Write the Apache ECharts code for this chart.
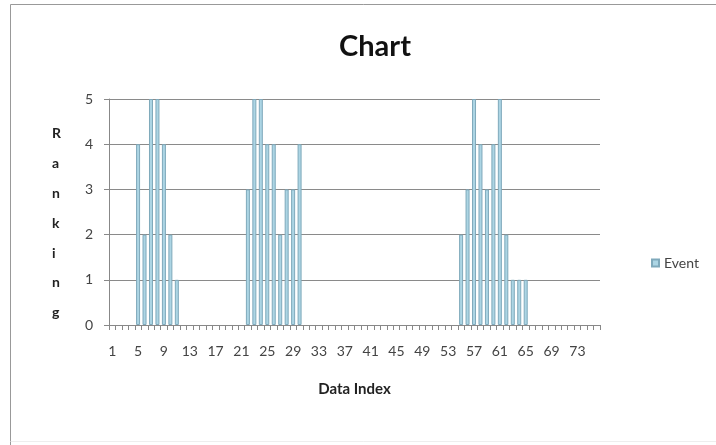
<!DOCTYPE html>
<html>
<head>
<meta charset="utf-8">
<script src="https://cdn.jsdelivr.net/npm/echarts@6/dist/echarts.min.js"></script>
<style>html,body{margin:0;padding:0;background:#fff}#c{width:716px;height:445px}</style>
</head>
<body>
<div id="c"></div>
<script>
var categories = ['1','2','3','4','5','6','7','8','9','10','11','12','13','14','15','16','17','18','19','20',
'21','22','23','24','25','26','27','28','29','30','31','32','33','34','35','36','37','38','39','40',
'41','42','43','44','45','46','47','48','49','50','51','52','53','54','55','56','57','58','59','60',
'61','62','63','64','65','66','67','68','69','70','71','72','73','74','75','76'];
var eventValues = [0,0,0,0,4,2,5,5,4,2,1,0,0,0,0,0,0,0,0,0,
0,3,5,5,4,4,2,3,3,4,0,0,0,0,0,0,0,0,0,0,
0,0,0,0,0,0,0,0,0,0,0,0,0,0,2,3,5,4,3,4,
5,2,1,1,1,0,0,0,0,0,0,0,0,0,0,0];
var yTicks = [0,1,2,3,4,5];
var seriesName = 'Event';
var font = 'Lato, "Open Sans", sans-serif';

var chart = echarts.init(document.getElementById('c'), null, {renderer:'canvas'});
chart.setOption({
  animation:false,
  backgroundColor:'#fff',
  title:{text:'Chart', left:370, top:27, textAlign:'center',
    textStyle:{fontFamily:font, fontSize:29, fontWeight:'bold', color:'#111'}},
  legend:{data:[seriesName], left:646, top:251, icon:'rect', itemWidth:7, itemHeight:7, itemGap:5,
    textStyle:{fontFamily:font, fontSize:14, color:'#444'}},
  grid:{left:109, right:116, top:99, bottom:120, containLabel:false},
  xAxis:{type:'category', data:categories,
    name:'Data Index', nameLocation:'middle', nameGap:57,
    nameTextStyle:{fontFamily:font, fontSize:15, fontWeight:'bold', color:'#222'},
    axisLine:{lineStyle:{color:'#888', width:1}},
    axisTick:{show:true, interval:0, length:5, lineStyle:{color:'#888'}},
    axisLabel:{interval:3, margin:19, fontFamily:font, fontSize:14, color:'#444'}},
  yAxis:{type:'value', min:0, max:5, interval:1,
    axisLine:{show:true, lineStyle:{color:'#888'}},
    axisTick:{show:true, length:5, lineStyle:{color:'#888'}},
    splitLine:{lineStyle:{color:'#8a8a8a', width:1}},
    axisLabel:{margin:16, fontFamily:font, fontSize:14, color:'#444',
      formatter:function(v){return yTicks.indexOf(v)>=0?String(v):'';}}},
  series:[{name:seriesName, type:'bar', barWidth:'62%',
    data:eventValues.map(function(v){return v===0?'-':v;}),
    itemStyle:{color:'#acd5e4', borderColor:'#7fa9bb', borderWidth:1}}],
  graphic:[
    {type:'text', left:52, top:119, style:{text:'R\na\nn\nk\ni\nn\ng', fontFamily:font, fontSize:14, fontWeight:'bold',
      fill:'#222', lineHeight:29.8, align:'center'}},
    {type:'line', shape:{x1:10.5,y1:4.5,x2:716,y2:4.5}, style:{stroke:'#999', lineWidth:1}},
    {type:'line', shape:{x1:10.5,y1:4.5,x2:10.5,y2:445}, style:{stroke:'#999', lineWidth:1}},
    {type:'line', shape:{x1:10.5,y1:441.5,x2:716,y2:441.5}, style:{stroke:'#eee', lineWidth:1}}
  ]
});
</script>
</body>
</html>
